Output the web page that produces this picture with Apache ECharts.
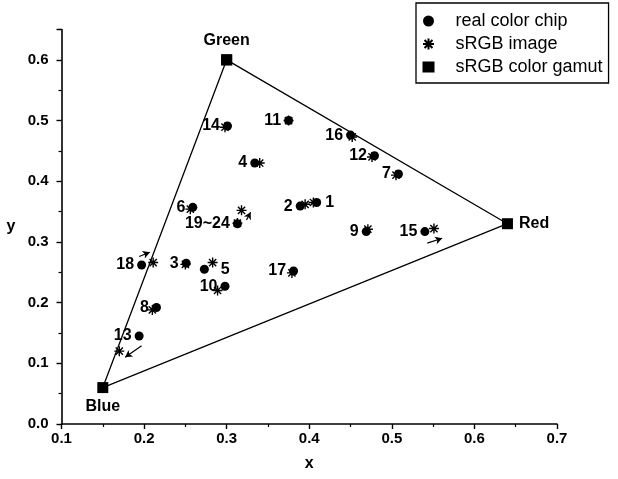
<!DOCTYPE html>
<html><head><meta charset="utf-8">
<script src="https://cdn.jsdelivr.net/npm/echarts@6/dist/echarts.min.js"></script>
<style>html,body{margin:0;padding:0;background:#fff}#c{width:618px;height:479px}</style>
</head><body><div id="c"></div>
<script>
// real color chip
const chipNames = ['1','2','3','4','5','6','7','8','9','10','11','12','13','14','15','16','17','18','19~24'];
const chipX = [0.409,0.389,0.251,0.334,0.273,0.259,0.508,0.215,0.469,0.298,0.375,0.479,0.194,0.301,0.540,0.450,0.381,0.197,0.313];
const chipY = [0.365,0.359,0.265,0.430,0.255,0.357,0.412,0.192,0.317,0.227,0.500,0.442,0.145,0.491,0.317,0.476,0.252,0.262,0.330];
// sRGB image
const imgX = [0.405,0.395,0.250,0.340,0.283,0.256,0.505,0.210,0.471,0.289,0.375,0.476,0.170,0.298,0.551,0.452,0.379,0.211,0.318,0.313];
const imgY = [0.365,0.362,0.263,0.430,0.266,0.354,0.410,0.188,0.321,0.220,0.500,0.440,0.120,0.489,0.322,0.473,0.249,0.266,0.352,0.331];
// sRGB color gamut
const gamutNames = ['Green','Red','Blue','Green'];
const gamutX = [0.30,0.64,0.15,0.30];
const gamutY = [0.60,0.33,0.06,0.60];
// annotation arrows [x0,y0,x1,y1]
const arrows = [
  [0.194,0.276,0.207,0.283],
  [0.324,0.336,0.329,0.349],
  [0.197,0.129,0.177,0.110],
  [0.543,0.298,0.561,0.306]
];
const rightLabelGap = {'1':4,'5':12};
const gamutLabelPos = {Green:'top', Red:'right', Blue:'bottom'};

const FONT = '"Liberation Sans", Arial, sans-serif';
const star = 'path://M0,-5L0,5M-5,0L5,0M-3.6,-3.6L3.6,3.6M-3.6,3.6L3.6,-3.6';

const chart = echarts.init(document.getElementById('c'), null, {renderer:'canvas'});
const axisCommon = {
  axisLine:{show:true,onZero:false,lineStyle:{color:'#000',width:1.6}},
  axisTick:{show:true,inside:false,length:5,lineStyle:{color:'#000',width:1.4}},
  minorTick:{show:true,splitNumber:2,length:3,lineStyle:{color:'#000',width:1.2}},
  splitLine:{show:false},
  axisLabel:{color:'#000',fontFamily:FONT,fontWeight:'bold',fontSize:15,margin:7,
    formatter:function(v){const r=Math.round(v*10)/10; return Math.abs(r-v)<1e-6? r.toFixed(1):'';}},
  nameTextStyle:{color:'#000',fontFamily:FONT,fontWeight:'bold',fontSize:16}
};
chart.setOption({
  animation:false,
  grid:{left:61.5,right:61,top:29.5,bottom:55,containLabel:false},
  xAxis:Object.assign({},axisCommon,{type:'value',min:0.1,max:0.7,interval:0.1,name:'x',nameLocation:'middle',nameGap:32}),
  yAxis:Object.assign({},axisCommon,{type:'value',min:0,max:0.65,interval:0.1,name:'y',nameLocation:'middle',nameGap:46,nameRotate:0,
    axisLabel:Object.assign({},axisCommon.axisLabel,{margin:13})}),
  legend:{
    left:416, top:3, orient:'vertical', borderColor:'#000', borderWidth:1.3,
    padding:[9,6,7,6], itemWidth:12, itemHeight:11, itemGap:5,
    textStyle:{color:'#000',fontFamily:FONT,fontSize:18,padding:[0,0,0,16]},
    data:[
      {name:'real color chip',icon:'circle'},
      {name:'sRGB image',icon:star},
      {name:'sRGB color gamut',icon:'rect'}
    ]
  },
  series:[
    {
      name:'sRGB color gamut', type:'line', symbol:'rect', symbolSize:11,
      lineStyle:{color:'#000',width:1.3}, itemStyle:{color:'#000',opacity:1},
      data:gamutX.map((x,i)=>({value:[x,gamutY[i]],name:gamutNames[i],
        label:{show:i<3,position:gamutLabelPos[gamutNames[i]],distance:6,formatter:gamutNames[i],
          color:'#000',fontFamily:FONT,fontWeight:'bold',fontSize:16}})),
      z:2
    },
    {
      name:'real color chip', type:'scatter', symbol:'circle', symbolSize:9,
      itemStyle:{color:'#000',opacity:1},
      data:chipX.map((x,i)=>{
        const rg = rightLabelGap[chipNames[i]];
        return {value:[x,chipY[i]],name:chipNames[i],
          label:{show:true,position:rg!==undefined?'right':'left',distance:rg!==undefined?rg:3,
            formatter:chipNames[i],color:'#000',fontFamily:FONT,fontWeight:'bold',fontSize:16}};
      }),
      z:3
    },
    {
      name:'sRGB image', type:'scatter', symbol:star, symbolSize:10,
      itemStyle:{color:'rgba(0,0,0,0)',borderColor:'#000',borderWidth:1.4,opacity:1},
      data:imgX.map((x,i)=>[x,imgY[i]]),
      markLine:{
        silent:true, symbol:['none','arrow'], symbolSize:[6,7],
        lineStyle:{color:'#000',width:1.2,type:'solid'}, label:{show:false},
        data:arrows.map(a=>[{coord:[a[0],a[1]]},{coord:[a[2],a[3]]}])
      },
      z:4
    }
  ]
});
</script></body></html>
